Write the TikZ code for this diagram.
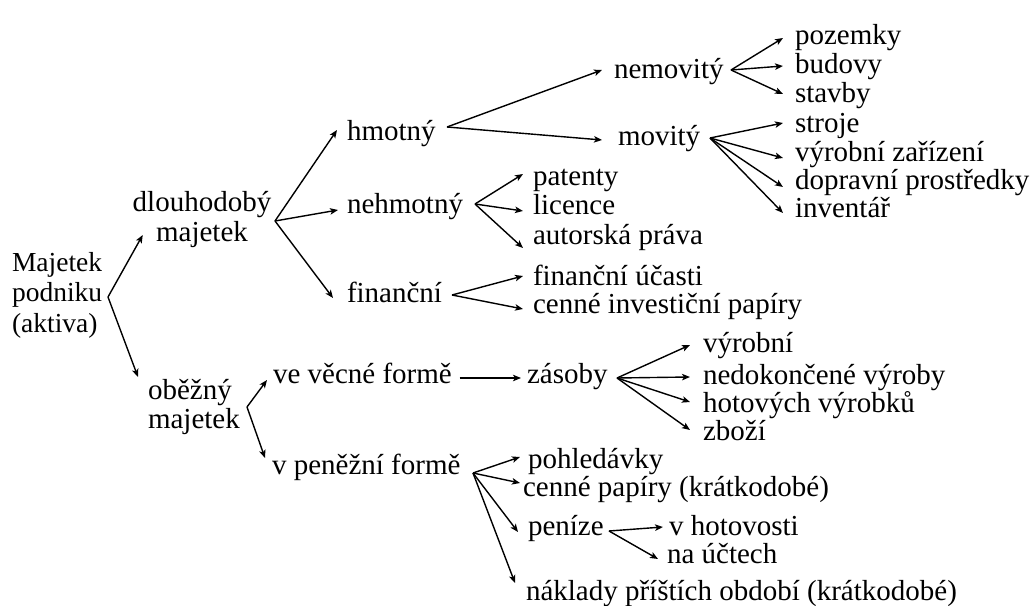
\documentclass[tikz,border=0pt]{standalone}
\usepackage{fontspec}
\setmainfont{Liberation Serif}
\usetikzlibrary{arrows.meta}
\begin{document}
\begin{tikzpicture}[x=1bp,y=-1bp,
  lbl/.style={inner sep=0pt,outer sep=0pt,anchor=base west,font=\fontsize{29bp}{29bp}\selectfont},
  arr/.style={line width=1.4bp,-{Stealth[length=8bp,width=6.5bp,inset=2bp]}}]
\useasboundingbox[fill=white] (0,0) rectangle (1034,606);
% level 0 (base anchor = baseline of the last line)
\node[lbl,align=left,font=\fontsize{27.5bp}{30bp}\selectfont] (root) at (12,332) {Majetek\\podniku\\(aktiva)};
% level 1
\node[lbl,anchor=base,align=center,font=\fontsize{29bp}{30bp}\selectfont] (dlouh) at (202,242) {dlouhodobý\\majetek};
\node[lbl,align=left,font=\fontsize{29bp}{29bp}\selectfont] (obez) at (148,428) {oběžný\\majetek};
% level 2
\node[lbl] (hmot) at (347,141) {hmotný};
\node[lbl] (nehmot) at (347,214) {nehmotný};
\node[lbl] (finan) at (347,303) {finanční};
\node[lbl] (vecna) at (273,383) {ve věcné formě};
\node[lbl] (penez) at (272,474) {v peněžní formě};
% level 3
\node[lbl] (nemov) at (614,79) {nemovitý};
\node[lbl] (mov) at (618,146) {movitý};
\node[lbl] (pat) at (533,186) {patenty};
\node[lbl] (lic) at (533,215) {licence};
\node[lbl] (aut) at (533,245) {autorská práva};
\node[lbl] (fucast) at (533,286) {finanční účasti};
\node[lbl] (cip) at (533,313) {cenné investiční papíry};
\node[lbl] (zas) at (527,383) {zásoby};
\node[lbl] (pohl) at (528,468) {pohledávky};
\node[lbl] (cpk) at (523,496) {cenné papíry (krátkodobé)};
\node[lbl] (pen) at (528,535) {peníze};
\node[lbl] (nakl) at (526,600) {náklady příštích období (krátkodobé)};
% level 4
\node[lbl] (poz) at (795,45) {pozemky};
\node[lbl] (bud) at (795,74) {budovy};
\node[lbl] (stav) at (795,103) {stavby};
\node[lbl] (stro) at (795,133) {stroje};
\node[lbl] (vzar) at (795,162) {výrobní zařízení};
\node[lbl] (dopr) at (795,190) {dopravní prostředky};
\node[lbl] (inv) at (795,218) {inventář};
\node[lbl] (zvyr) at (703,352) {výrobní};
\node[lbl] (nedok) at (703,384) {nedokončené výroby};
\node[lbl] (hotv) at (703,412) {hotových výrobků};
\node[lbl] (zbozi) at (703,440) {zboží};
\node[lbl] (hotov) at (669,535) {v hotovosti};
\node[lbl] (ucty) at (667,563) {na účtech};
% branching points
\coordinate (rootA) at (108,297);
\coordinate (dlouhA) at (275,221);
\coordinate (obezA) at (247,407);
\coordinate (hmotA) at (447,127);
\coordinate (nehmotA) at (475,204);
\coordinate (finanA) at (452,295);
\coordinate (nemovA) at (731,70);
\coordinate (movA) at (710,138);
\coordinate (zasA) at (617,378);
\coordinate (penezA) at (473,473);
\coordinate (penA) at (609,531);
% connectors
\draw[arr] (rootA) -- ([shift={(10,-7)}]dlouh.base west);
\draw[arr] (rootA) -- ([shift={(-10,-51)}]obez.base west);
\draw[arr] (dlouhA) -- ([shift={(-10,-11)}]hmot.base west);
\draw[arr] (dlouhA) -- ([shift={(-9,-4)}]nehmot.base west);
\draw[arr] (dlouhA) -- ([shift={(-14,-5)}]finan.base west);
\draw[arr] (obezA) -- ([shift={(-6,-3)}]vecna.base west);
\draw[arr] (obezA) -- ([shift={(-7,-16)}]penez.base west);
\draw[arr] (hmotA) -- ([shift={(-12,-9)}]nemov.base west);
\draw[arr] (hmotA) -- ([shift={(-16,-6)}]mov.base west);
\draw[arr] (nemovA) -- ([shift={(-12,-7)}]poz.base west);
\draw[arr] (nemovA) -- ([shift={(-12,-8)}]bud.base west);
\draw[arr] (nemovA) -- ([shift={(-12,-9)}]stav.base west);
\draw[arr] (movA) -- ([shift={(-12,-10)}]stro.base west);
\draw[arr] (movA) -- ([shift={(-12,-4)}]vzar.base west);
\draw[arr] (movA) -- ([shift={(-12,-3)}]dopr.base west);
\draw[arr] (movA) -- ([shift={(-12,-5)}]inv.base west);
\draw[arr] (nehmotA) -- ([shift={(-10,-12)}]pat.base west);
\draw[arr] (nehmotA) -- ([shift={(-10,-4)}]lic.base west);
\draw[arr] (nehmotA) -- ([shift={(-10,3)}]aut.base west);
\draw[arr] (finanA) -- ([shift={(-10,-10)}]fucast.base west);
\draw[arr] (finanA) -- ([shift={(-10,-4)}]cip.base west);
\draw[arr] ([shift={(8,-5)}]vecna.base east) -- ([shift={(-6,-5)}]zas.base west);
\draw[arr] (zasA) -- ([shift={(-13,-7)}]zvyr.base west);
\draw[arr] (zasA) -- ([shift={(-13,-7)}]nedok.base west);
\draw[arr] (zasA) -- ([shift={(-13,-10)}]hotv.base west);
\draw[arr] (zasA) -- ([shift={(-13,-10)}]zbozi.base west);
\draw[arr] (penezA) -- ([shift={(-8,-11)}]pohl.base west);
\draw[arr] (penezA) -- ([shift={(-3,-13)}]cpk.base west);
\draw[arr] (penezA) -- ([shift={(-10,-3)}]pen.base west);
\draw[arr] (penezA) -- ([shift={(-11,-17)}]nakl.base west);
\draw[arr] (penA) -- ([shift={(-6,-8)}]hotov.base west);
\draw[arr] (penA) -- ([shift={(-9,-4)}]ucty.base west);
\end{tikzpicture}
\end{document}
